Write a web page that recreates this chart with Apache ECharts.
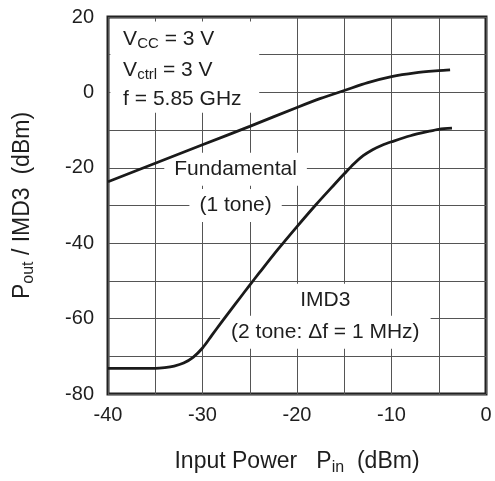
<!DOCTYPE html>
<html>
<head>
<meta charset="utf-8">
<script src="https://cdn.jsdelivr.net/npm/echarts@6/dist/echarts.min.js"></script>
<style>
  html, body { margin: 0; padding: 0; background: #fff; }
  #main { width: 495px; height: 481px; }
</style>
</head>
<body>
<div id="main"></div>
<script>
// Fundamental (1 tone) output power vs input power
var pinFund  = [-40, -35, -30, -25, -20, -17.5, -15, -12.5, -10, -7.5, -5, -3.8];
var poutFund = [-23.7, -18.8, -13.9, -9.0, -4.0, -1.6, 0.5, 2.6, 4.2, 5.2, 5.8, 6.0];

// IMD3 (2 tone, delta f = 1 MHz)
var pinImd = [-40, -35, -34, -33, -32, -31, -30, -29, -28, -27, -26, -25, -24, -22, -20, -18, -16, -15, -14, -13, -12, -11, -10, -8, -6, -5, -3.6];
var imd3   = [-73.2, -73.2, -73.0, -72.6, -71.8, -70.3, -67.8, -64.4, -61.0, -57.7, -54.4, -51.1, -47.9, -41.6, -35.6, -29.8, -24.3, -21.6, -19.0, -16.8, -15.2, -14.0, -13.1, -11.5, -10.3, -9.8, -9.5];

// labelled ticks (grid lines are every 5 dB / 10 dB)
var xLabelVals = [-40, -30, -20, -10, 0];
var yLabelVals = [20, 0, -20, -40, -60, -80];

// annotation texts
var condTexts = ['{n|V}{s|CC}{n| = 3 V}', '{n|V}{s|ctrl}{n| = 3 V}', '{n|f = 5.85 GHz}'];
var fundTexts = ['Fundamental', '(1 tone)'];
var imdTexts  = ['IMD3', '(2 tone: \u0394f = 1 MHz)'];

var FONT = '"Liberation Sans", Arial, Helvetica, sans-serif';
var INK = '#1e1e1e';

function zip(xs, ys) {
    return xs.map(function (x, i) { return [x, ys[i]]; });
}

var chart = echarts.init(document.getElementById('main'));

var subRich = {
    n: { fontSize: 23, fontFamily: FONT, color: INK },
    s: { fontSize: 16, fontFamily: FONT, color: INK, padding: [12, 0, 0, 0] }
};

chart.setOption({
    animation: false,
    backgroundColor: '#fff',
    grid: {
        left: 108, right: 9, top: 17, bottom: 87,
        show: true, borderColor: '#222', borderWidth: 3,
        outerBoundsMode: 'none'
    },
    xAxis: {
        type: 'value', min: -40, max: 0, interval: 5,
        axisLine: { show: false },
        axisTick: { show: false },
        splitLine: { show: true, lineStyle: { color: '#555', width: 1 } },
        axisLabel: {
            margin: 11, fontSize: 20, fontFamily: FONT, color: INK,
            formatter: function (v) { return xLabelVals.indexOf(v) >= 0 ? String(v) : ''; }
        },
        name: '{n|Input Power   P}{s|in}{n|  (dBm)}',
        nameLocation: 'middle',
        nameGap: 54,
        nameTextStyle: { rich: subRich }
    },
    yAxis: {
        type: 'value', min: -80, max: 20, interval: 10,
        axisLine: { show: false },
        axisTick: { show: false },
        splitLine: { show: true, lineStyle: { color: '#555', width: 1 } },
        axisLabel: {
            margin: 14, fontSize: 20, fontFamily: FONT, color: INK,
            formatter: function (v) { return yLabelVals.indexOf(v) >= 0 ? String(v) : ''; }
        },
        name: '{n|P}{s|out}{n| / IMD3  (dBm)}',
        nameLocation: 'middle',
        nameGap: 71,
        nameTextStyle: { rich: subRich }
    },
    series: [
        {
            name: 'Fundamental', type: 'line', data: zip(pinFund, poutFund),
            smooth: 0.3, showSymbol: false,
            lineStyle: { color: '#1a1a1a', width: 2.8 }, z: 3
        },
        {
            name: 'IMD3', type: 'line', data: zip(pinImd, imd3),
            smooth: 0.3, showSymbol: false,
            lineStyle: { color: '#1a1a1a', width: 2.8 }, z: 3
        }
    ]
});

function px(x, y) {
    return chart.convertToPixel({ gridIndex: 0 }, [x, y]);
}

var graphics = [];

// white box behind the operating conditions
var b0 = px(-39.75, 18.8), b1 = px(-24, -5.4);
graphics.push({
    type: 'rect', z: 1,
    shape: { x: b0[0], y: b0[1], width: b1[0] - b0[0], height: b1[1] - b0[1] },
    style: { fill: '#fff' }
});
var condY = [14.2, 5.8, -1.9];
condTexts.forEach(function (t, i) {
    var p = px(-38.4, condY[i]);
    graphics.push({
        type: 'text', z: 2, x: p[0], y: p[1],
        style: {
            text: t, align: 'left', verticalAlign: 'middle',
            rich: {
                n: { fontSize: 21, fontFamily: FONT, fill: INK },
                s: { fontSize: 15, fontFamily: FONT, fill: INK, padding: [9, 0, 0, 0] }
            }
        }
    });
});

function boxedText(t, x, y, pad) {
    var p = px(x, y);
    graphics.push({
        type: 'text', z: 1, x: p[0], y: p[1],
        style: {
            text: t, align: 'center', verticalAlign: 'middle',
            fontSize: 21, fontFamily: FONT, fill: INK,
            backgroundColor: '#fff', padding: pad
        }
    });
}

boxedText(fundTexts[0], -26.5, -20.4, [6, 10]);
boxedText(fundTexts[1], -26.5, -30, [6, 10]);
boxedText(imdTexts[0], -17.0, -55.1, [6, 17]);
boxedText(imdTexts[1], -17.0, -63.6, [6, 11]);

chart.setOption({ graphic: graphics });
</script>
</body>
</html>
